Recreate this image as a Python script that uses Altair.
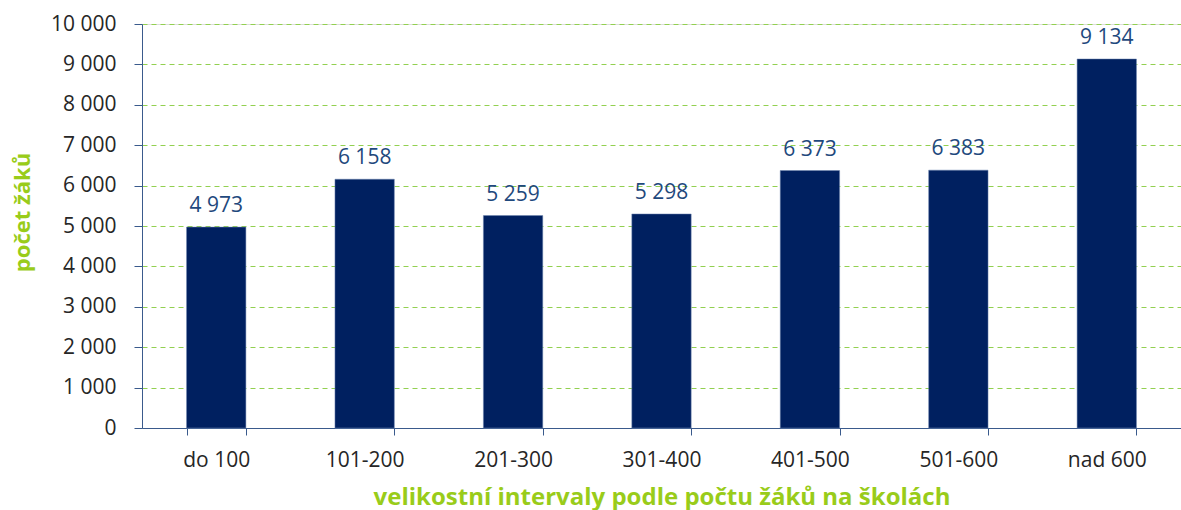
import altair as alt
import pandas as pd

categories = ["do 100", "101-200", "201-300", "301-400", "401-500", "501-600", "nad 600"]
values = [4973, 6158, 5259, 5298, 6373, 6383, 9134]

df = pd.DataFrame({"kat": categories, "pocet": values})

GREEN = "#99CC1A"
FONT = "Open Sans"

x = alt.X("kat:N", sort=categories,
          scale=alt.Scale(paddingInner=0.6, paddingOuter=0.3),
          axis=alt.Axis(title="velikostní intervaly podle počtu žáků na školách",
                        labelAngle=0, labelFontSize=21, labelColor="#262626", labelFont=FONT,
                        labelPadding=14, tickBand="extent", tickSize=7, tickColor="#3A5A8C",
                        domainColor="#3A5A8C", titleColor=GREEN, titleFontSize=24,
                        titleFont=FONT, titleFontWeight="bold", titleY=76,
                        titleBaseline="alphabetic", grid=False))

y = alt.Y("pocet:Q",
          scale=alt.Scale(domain=[0, 10000], nice=False),
          axis=alt.Axis(title="počet žáků", values=list(range(0, 10001, 1000)),
                        labelExpr="replace(format(datum.value, ','), ',', ' ')",
                        labelFontSize=21, labelColor="#262626", labelFont=FONT,
                        labelPadding=18, tickSize=8, tickColor="#3A5A8C", domainColor="#3A5A8C",
                        gridColor="#92D050", gridDash=[5, 4], gridWidth=1,
                        titleColor=GREEN, titleFontSize=22, titleFont=FONT,
                        titleFontWeight="bold", titleX=-120, titleY=188,
                        titleBaseline="middle", titleAngle=270))

bars = alt.Chart(df).mark_bar(color="#002060", stroke="#6F86B0", strokeWidth=0.5).encode(x=x, y=y)

text = alt.Chart(df).transform_calculate(
    lbl="replace(format(datum.pocet, ','), ',', ' ')"
).mark_text(baseline="alphabetic", dy=-15, fontSize=21, font=FONT, color="#1F497D").encode(
    x=alt.X("kat:N", sort=categories), y="pocet:Q", text="lbl:N")

chart = (bars + text).properties(
    width=1039, height=404,
    autosize=alt.AutoSizeParams(type="none"),
    padding={"left": 142, "top": 24, "right": 0, "bottom": 82},
).configure_view(stroke=None).configure(background="white")

chart.save("out.html", embed_options={"renderer": "svg", "actions": False})
